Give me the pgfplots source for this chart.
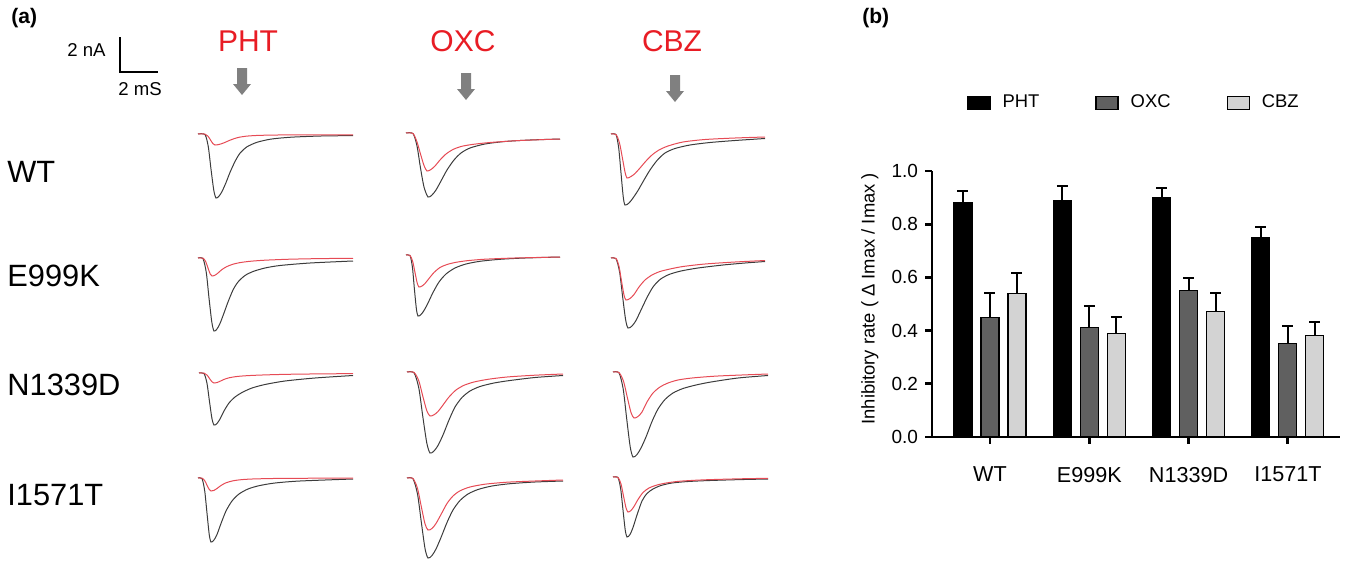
\documentclass[border=0pt]{standalone}
\usepackage{fontspec}
\setmainfont{Liberation Sans}
\usepackage{pgfplots}
\pgfplotsset{compat=1.18}
\definecolor{tred}{RGB}{230,75,85}
\definecolor{tblk}{RGB}{60,60,60}
\definecolor{arr}{RGB}{128,128,128}
\definecolor{dgray}{RGB}{96,96,96}
\definecolor{lgray}{RGB}{211,211,211}
\definecolor{labred}{RGB}{232,28,36}
\pgfplotsset{
  blk/.style={tblk,line width=0.5pt,smooth,tension=0.45,no marks},
  rd/.style={tred,line width=0.5pt,smooth,tension=0.45,no marks},
}
\begin{document}
\begin{tikzpicture}
\useasboundingbox (0,0) rectangle (673pt,281pt);
% ---------------- panel (a) ----------------
\begin{axis}[at={(0,0)},anchor=south west,scale only axis,width=400pt,height=281pt,
  xmin=0,xmax=800,ymin=0,ymax=562,y dir=reverse,axis lines=none,clip=false]
% Row WT
\addplot[blk] coordinates {(198,134)(205,134.6)(208.3,146.8)(211,169.2)(213.8,190.3)(216,198)(219,196.1)(222,191.6)(226,182.6)(230,172.4)(235,161.5)(240,153.2)(247,146.8)(257,142.3)(271,139.1)(291,137.2)(321,136)(353,135.6)};
\addplot[rd] coordinates {(198,134)(205,134.1)(208,136.2)(210.5,140)(213,143.7)(215,145)(218,144.7)(221,143.9)(225,142.4)(229,140.6)(234,138.7)(239,137.3)(246,136.2)(256,135.5)(270,135.1)(290,134.9)(320,134.8)(353,134.8)};
\addplot[blk] coordinates {(406,133)(413,133.6)(417,146)(420.5,168)(424,187)(428,197)(432,195)(436,190)(441,181)(447,170)(454,160)(461,153)(470,148)(485,144)(505,141.5)(530,140)(560,139)};
\addplot[rd] coordinates {(406,133)(413,133.5)(417,142)(420.5,154)(424,165.5)(427,171)(431,169.5)(435,166)(440,160)(446,154)(453,149.5)(461,146.5)(472,144.5)(490,142.5)(520,140.5)(560,139)};
\addplot[blk] coordinates {(611,134)(616,134.7)(618.7,148)(621,173)(623.2,196.5)(625,205)(629,203)(633,198)(638,190.5)(644,180)(650,170)(657,160.5)(665,153)(675,148.5)(690,145)(710,142.5)(735,140.5)(765,138.5)};
\addplot[rd] coordinates {(611,134)(616,134.5)(619.5,143)(622.5,158.5)(625,172)(627,178)(631,176.5)(635,173.5)(640,168)(646,161)(652,155)(659,150)(668,146)(683,142)(705,139.5)(735,138)(765,137)};
% Row E999K
\addplot[blk] coordinates {(198,258)(203,258.7)(206.3,272.6)(209,298)(211.8,322)(214,331)(217,329)(220,323.5)(224,313)(228,302)(233,290)(238,282)(245,275.5)(253,271.5)(265,268)(280,265.5)(310,263)(353,261)};
\addplot[rd] coordinates {(198,258)(203,258.2)(205.7,261.6)(208,268)(210.2,274)(212,276)(215,275.2)(218,273)(222,269.5)(227,266.5)(233,264.2)(240,262.6)(250,261.3)(265,260.2)(290,259.2)(320,258.6)(353,258.3)};
\addplot[blk] coordinates {(406,255)(410,255.6)(412.4,267)(414.4,289)(416.4,309)(418,316)(421,314.5)(424,310.5)(428,303)(433,292.5)(439,282)(446,274)(455,268)(466,264)(480,261.3)(500,259.3)(525,258)(560,257)};
\addplot[rd] coordinates {(406,255)(410,255.4)(412.7,261.5)(415,272.5)(417.2,283)(419,287)(422,286)(425,283.5)(429,278.5)(434,272.5)(440,267.5)(447,264.5)(456,262.3)(468,260.6)(485,259.2)(515,258)(560,257)};
\addplot[blk] coordinates {(611,258)(616,258.7)(619.6,272)(622.6,296.5)(625.6,319.6)(628,328)(632,326)(636,320.5)(641,310)(647,297.5)(653,287)(660,279.5)(669,274.5)(681,271)(698,268)(723,265)(745,263)(765,261.5)};
\addplot[rd] coordinates {(611,258)(616,258.4)(619,266.4)(621.5,281)(624,295)(626,300)(630,298.5)(634,294.5)(639,287)(645,280)(652,275)(660,271.5)(670,269)(683,266.5)(705,264)(735,262)(765,260.5)};
% Row N1339D
\addplot[blk] coordinates {(199,373)(204,373.5)(207,383.4)(209.5,401.6)(212,418.8)(214,425)(217,423.5)(220,419)(224,411)(229,403)(235,397)(242,392.5)(252,388)(265,384.5)(285,381)(315,378)(353,375.5)};
\addplot[rd] coordinates {(199,373)(204,373.1)(207,375)(209.5,378.5)(212,381.8)(214,383)(217,382.6)(220,381.3)(224,379.4)(229,377.8)(236,376.6)(245,375.8)(257,375.2)(275,374.6)(300,374.1)(353,373.6)};
\addplot[blk] coordinates {(407,372)(414,372.8)(418.8,388)(422.8,416.5)(426.8,443)(430,453)(434,451)(438,445.5)(443,435)(449,420)(455,407)(462,397.5)(470,391)(480,386.5)(494,383)(510,380.5)(535,377.5)(563,375.5)};
\addplot[rd] coordinates {(407,372)(414,372.4)(418.8,380.8)(422.8,396.2)(426.8,410.7)(430,416)(434,414.8)(438,411.5)(443,405)(449,397)(456,390)(464,385.3)(474,382)(488,379.3)(507,377)(535,375.2)(563,374)};
\addplot[blk] coordinates {(613,372)(619,372.9)(623.2,389)(626.7,418.8)(630.2,446.8)(633,457)(637,454.5)(641,448)(646,437)(652,421.5)(658,409)(665,399.5)(673,393)(683,388.5)(696,385)(711,382)(738,378)(768,375.5)};
\addplot[rd] coordinates {(613,372)(619,372.5)(623.5,381.2)(627.3,397.3)(631,412.5)(634,418)(638,416.5)(642,412)(647,402)(653,393)(660,387)(668,383)(678,380)(692,378)(718,376)(768,374)};
% Row I1571T
\addplot[blk] coordinates {(198,478)(202,478.6)(204.7,490.8)(207,513.2)(209.2,534.3)(211,542)(214,540)(217,534.5)(221,523.5)(226,511)(232,501)(239,494)(248,489)(259,485.7)(275,483)(300,481)(353,479)};
\addplot[rd] coordinates {(198,478)(202,478.1)(204.7,480.6)(207,485.2)(209.2,489.4)(211,491)(214,490.4)(217,488.5)(221,485.5)(226,482.8)(233,480.8)(242,479.6)(255,478.9)(280,478.4)(320,478.2)(353,478.1)};
\addplot[blk] coordinates {(407,478)(413,478.8)(417.5,494)(421.3,522)(425,548.4)(428,558)(432,555.5)(436,549)(441,537.5)(447,522.5)(453,510)(460,500.5)(468,494)(478,489.5)(492,486)(510,483.7)(535,482)(563,481)};
\addplot[rd] coordinates {(407,478)(413,478.5)(417.5,488.4)(421.3,506.6)(425,523.8)(428,530)(432,528.5)(436,523.5)(441,514.5)(447,503.5)(453,496)(460,490.8)(470,487)(485,484.2)(507,482.2)(535,481)(563,480)};
\addplot[blk] coordinates {(613,477)(618,477.6)(620.7,489)(623,510)(625.2,529.8)(627,537)(630,534.5)(633,527.5)(637,515)(642,501)(647,493.5)(653,489)(661,485.5)(672,483)(688,481.5)(710,480.5)(740,479.6)(768,479)};
\addplot[rd] coordinates {(613,477)(618,477.4)(621,484)(623.5,496)(626,507.8)(628,512)(631,510.5)(634,506.5)(638,499.5)(643,492.5)(649,488)(656,485.3)(665,483.2)(680,481.2)(705,479.8)(740,478.8)(768,478.3)};
% labels
\node[anchor=west,font=\fontsize{10.5}{12}\selectfont\bfseries,inner sep=0] at (axis cs:11,18) {(a)};
\node[anchor=west,font=\fontsize{10.5}{12}\selectfont\bfseries,inner sep=0] at (axis cs:862,18) {(b)};
\node[anchor=east,font=\fontsize{9.3}{11}\selectfont,inner sep=0] at (axis cs:106,50) {2 nA};
\node[anchor=center,font=\fontsize{9.3}{11}\selectfont,inner sep=0] at (axis cs:140,89) {2 mS};
\draw[black,line width=1pt] (axis cs:120,37) -- (axis cs:120,72) -- (axis cs:158,72);
\node[anchor=center,font=\fontsize{15}{18}\selectfont,text=labred,inner sep=0] at (axis cs:248,41) {PHT};
\node[anchor=center,font=\fontsize{15}{18}\selectfont,text=labred,inner sep=0] at (axis cs:463,41) {OXC};
\node[anchor=center,font=\fontsize{15}{18}\selectfont,text=labred,inner sep=0] at (axis cs:672,41) {CBZ};
\fill[arr] (axis cs:237,68) -- (axis cs:247,68) -- (axis cs:247,84) -- (axis cs:251,84) -- (axis cs:242,95) -- (axis cs:233,84) -- (axis cs:237,84) -- cycle;
\fill[arr] (axis cs:461,73) -- (axis cs:471,73) -- (axis cs:471,89) -- (axis cs:475,89) -- (axis cs:466,100) -- (axis cs:457,89) -- (axis cs:461,89) -- cycle;
\fill[arr] (axis cs:670,75) -- (axis cs:680,75) -- (axis cs:680,91) -- (axis cs:684,91) -- (axis cs:675,102) -- (axis cs:666,91) -- (axis cs:670,91) -- cycle;
\node[anchor=west,font=\fontsize{15.4}{18}\selectfont,inner sep=0] at (axis cs:7,172) {WT};
\node[anchor=west,font=\fontsize{15.4}{18}\selectfont,inner sep=0] at (axis cs:7,276) {E999K};
\node[anchor=west,font=\fontsize{15.4}{18}\selectfont,inner sep=0] at (axis cs:7,385) {N1339D};
\node[anchor=west,font=\fontsize{15.4}{18}\selectfont,inner sep=0] at (axis cs:7,495) {I1571T};
\end{axis}
% ---------------- panel (b) ----------------
\begin{axis}[at={(466pt,62.5pt)},anchor=south west,scale only axis,width=204pt,height=133pt,
  xmin=-0.584,xmax=3.525,ymin=0,ymax=1,
  axis lines=left, axis line style={-,line width=1.4pt},
  ybar=4.5pt, bar width=9pt,
  xtick={0,1,2,3}, xticklabels={WT,E999K,N1339D,I1571T},
  ytick={0,0.2,0.4,0.6,0.8,1.0},
  /pgf/number format/assume math mode=true,
  yticklabel style={/pgf/number format/fixed,/pgf/number format/fixed zerofill,/pgf/number format/precision=1,font=\fontsize{9.5}{11}\selectfont},
  xticklabel style={font=\fontsize{10.8}{12}\selectfont,yshift=-8pt},
  tick align=outside, major tick length=3.5pt, tick style={line width=1.4pt,black},
  ylabel={Inhibitory rate ( Δ Imax / Imax )},
  ylabel style={font=\fontsize{9.2}{11}\selectfont,at={(axis description cs:-0.152,0.52)},anchor=center},
  legend columns=3,
  legend style={at={(0.086,1.256)},anchor=west,draw=none,fill=none,inner sep=0pt,
     font=\fontsize{9.2}{11}\selectfont,
     /tikz/every even column/.append style={column sep=26pt}},
  legend image code/.code={\draw[#1,draw=black,line width=0.6pt] (0pt,-3.25pt) rectangle (11pt,3.25pt); \path (15pt,0pt);},
  error bars/y dir=plus, error bars/y explicit,
  error bars/error bar style={line width=1pt,black},
  error bars/error mark options={rotate=90,mark size=2.75pt,line width=1pt,black},
]
\addplot[fill=black,draw=black,line width=0.6pt] coordinates {(0,0.88) +- (0,0.045) (1,0.89) +- (0,0.0525) (2,0.90) +- (0,0.0375) (3,0.75) +- (0,0.039)};
\addplot[fill=dgray,draw=black,line width=0.6pt] coordinates {(0,0.45) +- (0,0.09) (1,0.411) +- (0,0.083) (2,0.55) +- (0,0.049) (3,0.3525) +- (0,0.066)};
\addplot[fill=lgray,draw=black,line width=0.6pt] coordinates {(0,0.54) +- (0,0.078) (1,0.39) +- (0,0.06) (2,0.471) +- (0,0.069) (3,0.381) +- (0,0.05)};
\legend{PHT,OXC,CBZ}
\end{axis}
\end{tikzpicture}
\end{document}
